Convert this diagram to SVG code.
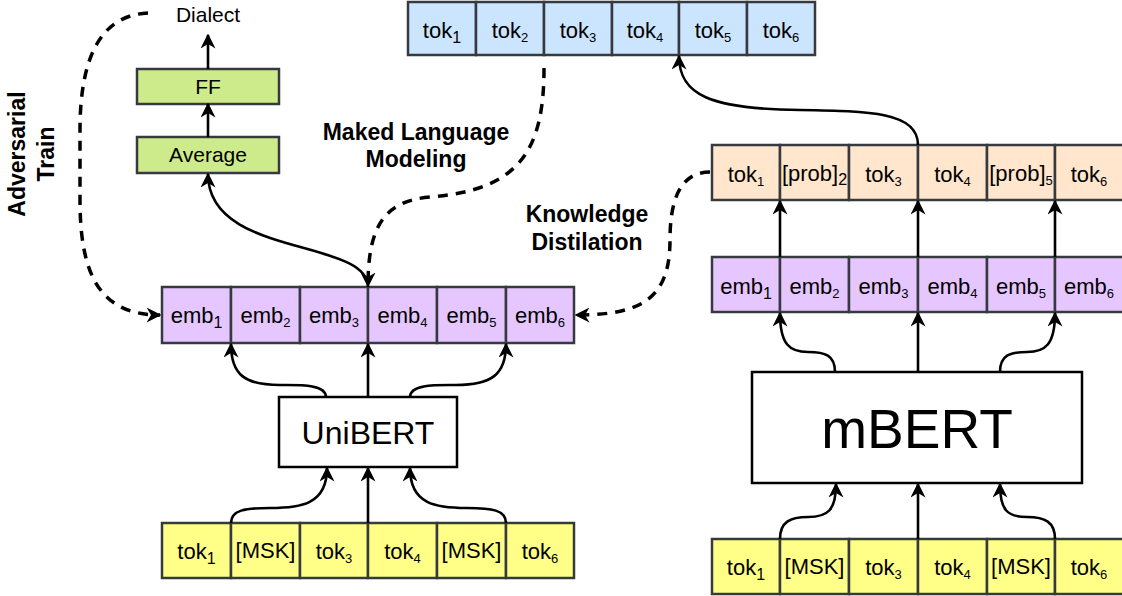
<svg xmlns="http://www.w3.org/2000/svg" width="1122" height="596" viewBox="0 0 1122 596">
<style>
text{font-family:"Liberation Sans",Arial,Helvetica,sans-serif;fill:#000}
.c{stroke:#36393d;stroke-width:2.5}
.blue{fill:#cce5ff}.org{fill:#ffe6cc}.pur{fill:#e6c6ff}.yel{fill:#ffff88}.grn{fill:#cdeb8b}
.t{font-size:22px;text-anchor:middle}
.s{font-size:13px}.s1{font-size:16px}
.b{font-weight:bold;font-size:23px;text-anchor:middle}
.box{fill:#fff;stroke:#000;stroke-width:2.5}
.conn path{fill:none;stroke:#000;stroke-width:2.6}
.conn .d{stroke-width:3.5;stroke-dasharray:10 8}
</style>
<defs>
<marker id="ah" viewBox="0 0 10 10" refX="9" refY="5" markerWidth="15" markerHeight="15" markerUnits="userSpaceOnUse" orient="auto">
<path d="M0,0 L10,5 L0,10 L3,5 Z" fill="#000"/>
</marker>
</defs>
<rect width="1122" height="596" fill="#fff"/>

<g id="blue-row">
<rect class="c blue" x="408" y="2" width="68" height="53"/>
<rect class="c blue" x="476" y="2" width="68" height="53"/>
<rect class="c blue" x="544" y="2" width="68" height="53"/>
<rect class="c blue" x="612" y="2" width="67" height="53"/>
<rect class="c blue" x="679" y="2" width="68" height="53"/>
<rect class="c blue" x="747" y="2" width="68" height="53"/>
<text class="t" x="442" y="38">tok<tspan class="s1" dy="5">1</tspan></text>
<text class="t" x="510" y="38">tok<tspan class="s" dy="4">2</tspan></text>
<text class="t" x="578" y="38">tok<tspan class="s" dy="4">3</tspan></text>
<text class="t" x="645" y="38">tok<tspan class="s" dy="4">4</tspan></text>
<text class="t" x="713" y="38">tok<tspan class="s" dy="4">5</tspan></text>
<text class="t" x="781" y="38">tok<tspan class="s" dy="4">6</tspan></text>
</g>

<g id="dialect">
<text x="208" y="22" font-size="21" text-anchor="middle">Dialect</text>
</g>
<g id="ff">
<rect class="c grn" x="137" y="69" width="142" height="35"/>
<text x="208" y="94" font-size="21" text-anchor="middle">FF</text>
</g>
<g id="average">
<rect class="c grn" x="137" y="137" width="142" height="36"/>
<text x="208" y="162" font-size="21" text-anchor="middle">Average</text>
</g>

<g id="label-adversarial">
<g transform="translate(0,154) rotate(-90)">
<text class="b" x="0" y="25">Adversarial</text>
<text class="b" x="0" y="54">Train</text>
</g>
</g>
<g id="label-mlm">
<text class="b" x="416" y="140">Maked Language</text>
<text class="b" x="416" y="167">Modeling</text>
</g>
<g id="label-kd">
<text class="b" x="587" y="222">Knowledge</text>
<text class="b" x="587" y="250">Distilation</text>
</g>

<g id="emb-left">
<rect class="c pur" x="162" y="287" width="69" height="56"/>
<rect class="c pur" x="231" y="287" width="69" height="56"/>
<rect class="c pur" x="300" y="287" width="68" height="56"/>
<rect class="c pur" x="368" y="287" width="69" height="56"/>
<rect class="c pur" x="437" y="287" width="69" height="56"/>
<rect class="c pur" x="506" y="287" width="68" height="56"/>
<text class="t" x="196.5" y="323">emb<tspan class="s1" dy="5">1</tspan></text>
<text class="t" x="265.5" y="323">emb<tspan class="s" dy="4">2</tspan></text>
<text class="t" x="334" y="323">emb<tspan class="s" dy="4">3</tspan></text>
<text class="t" x="402.5" y="323">emb<tspan class="s" dy="4">4</tspan></text>
<text class="t" x="471.5" y="323">emb<tspan class="s" dy="4">5</tspan></text>
<text class="t" x="540" y="323">emb<tspan class="s" dy="4">6</tspan></text>
</g>

<g id="unibert">
<rect class="box" x="279" y="397" width="178" height="70"/>
<text x="368" y="444" font-size="32" text-anchor="middle">UniBERT</text>
</g>

<g id="tok-left">
<rect class="c yel" x="162" y="523" width="69" height="55"/>
<rect class="c yel" x="231" y="523" width="69" height="55"/>
<rect class="c yel" x="300" y="523" width="68" height="55"/>
<rect class="c yel" x="368" y="523" width="69" height="55"/>
<rect class="c yel" x="437" y="523" width="69" height="55"/>
<rect class="c yel" x="506" y="523" width="68" height="55"/>
<text class="t" x="196.5" y="559">tok<tspan class="s1" dy="5">1</tspan></text>
<text class="t" x="265.5" y="558" font-size="19">[MSK]</text>
<text class="t" x="334" y="559">tok<tspan class="s" dy="4">3</tspan></text>
<text class="t" x="402.5" y="559">tok<tspan class="s" dy="4">4</tspan></text>
<text class="t" x="471.5" y="558" font-size="19">[MSK]</text>
<text class="t" x="540" y="559">tok<tspan class="s" dy="4">6</tspan></text>
</g>

<g id="prob-right">
<rect class="c org" x="712" y="145" width="68" height="55"/>
<rect class="c org" x="780" y="145" width="69" height="55"/>
<rect class="c org" x="849" y="145" width="69" height="55"/>
<rect class="c org" x="918" y="145" width="69" height="55"/>
<rect class="c org" x="987" y="145" width="68" height="55"/>
<rect class="c org" x="1055" y="145" width="69" height="55"/>
<text class="t" x="746" y="182">tok<tspan class="s" dy="4">1</tspan></text>
<text class="t" x="814.5" y="181" font-size="19">[prob]<tspan class="s1" dy="4">2</tspan></text>
<text class="t" x="883.5" y="182">tok<tspan class="s" dy="4">3</tspan></text>
<text class="t" x="952.5" y="182">tok<tspan class="s" dy="4">4</tspan></text>
<text class="t" x="1021" y="181" font-size="19">[prob]<tspan class="s" dy="4">5</tspan></text>
<text class="t" x="1089" y="182">tok<tspan class="s" dy="4">6</tspan></text>
</g>

<g id="emb-right">
<rect class="c pur" x="712" y="257" width="68" height="55"/>
<rect class="c pur" x="780" y="257" width="69" height="55"/>
<rect class="c pur" x="849" y="257" width="69" height="55"/>
<rect class="c pur" x="918" y="257" width="69" height="55"/>
<rect class="c pur" x="987" y="257" width="68" height="55"/>
<rect class="c pur" x="1055" y="257" width="69" height="55"/>
<text class="t" x="746" y="294">emb<tspan class="s1" dy="5">1</tspan></text>
<text class="t" x="814.5" y="294">emb<tspan class="s" dy="4">2</tspan></text>
<text class="t" x="883.5" y="294">emb<tspan class="s" dy="4">3</tspan></text>
<text class="t" x="952.5" y="294">emb<tspan class="s" dy="4">4</tspan></text>
<text class="t" x="1021" y="294">emb<tspan class="s" dy="4">5</tspan></text>
<text class="t" x="1089" y="294">emb<tspan class="s" dy="4">6</tspan></text>
</g>

<g id="mbert">
<rect class="box" x="752" y="372" width="330" height="111"/>
<text x="917" y="448" font-size="55" text-anchor="middle">mBERT</text>
</g>

<g id="tok-right">
<rect class="c yel" x="712" y="539" width="68" height="55"/>
<rect class="c yel" x="780" y="539" width="69" height="55"/>
<rect class="c yel" x="849" y="539" width="69" height="55"/>
<rect class="c yel" x="918" y="539" width="69" height="55"/>
<rect class="c yel" x="987" y="539" width="68" height="55"/>
<rect class="c yel" x="1055" y="539" width="69" height="55"/>
<text class="t" x="746" y="575">tok<tspan class="s1" dy="5">1</tspan></text>
<text class="t" x="814.5" y="574" font-size="19">[MSK]</text>
<text class="t" x="883.5" y="575">tok<tspan class="s" dy="4">3</tspan></text>
<text class="t" x="952.5" y="575">tok<tspan class="s" dy="4">4</tspan></text>
<text class="t" x="1021" y="574" font-size="19">[MSK]</text>
<text class="t" x="1089" y="575">tok<tspan class="s" dy="4">6</tspan></text>
</g>

<g id="connectors" class="conn">
<path d="M208 69 L208 35" marker-end="url(#ah)"/>
<path d="M208 137 L208 104" marker-end="url(#ah)"/>
<path d="M368 287 C368 238 208 258 208 174" marker-end="url(#ah)"/>
<path class="d" d="M148 13 C105 15 80 50 80 130 L80 200 C80 275 100 315 160 315" marker-end="url(#ah)"/>
<path class="d" d="M544 68 C544 150 520 190 430 197 C385 201 368 225 368 286" marker-end="url(#ah)"/>
<path class="d" d="M710 172 C680 172 670 200 670 240 C670 300 640 315 576 315" marker-end="url(#ah)"/>
<path d="M326 397 C326 384 300 385 280 385 C245 385 231 375 231 344" marker-end="url(#ah)"/>
<path d="M368 397 L368 344" marker-end="url(#ah)"/>
<path d="M410 397 C410 384 436 385 456 385 C491 385 506 375 506 344" marker-end="url(#ah)"/>
<path d="M231 523 C231 510 245 508 270 508 C300 508 327 505 327 468" marker-end="url(#ah)"/>
<path d="M368 523 L368 468" marker-end="url(#ah)"/>
<path d="M506 523 C506 510 492 508 467 508 C437 508 410 505 410 468" marker-end="url(#ah)"/>
<path d="M780 539 C780 522 790 517 808 517 C828 517 836 510 836 484" marker-end="url(#ah)"/>
<path d="M918 539 L918 484" marker-end="url(#ah)"/>
<path d="M1055 539 C1055 522 1045 517 1027 517 C1007 517 1000 510 1000 484" marker-end="url(#ah)"/>
<path d="M835 372 C835 355 825 352 808 352 C790 352 780 345 780 313" marker-end="url(#ah)"/>
<path d="M918 372 L918 313" marker-end="url(#ah)"/>
<path d="M1000 372 C1000 355 1010 352 1027 352 C1045 352 1055 345 1055 313" marker-end="url(#ah)"/>
<path d="M780 257 L780 201" marker-end="url(#ah)"/>
<path d="M918 257 L918 201" marker-end="url(#ah)"/>
<path d="M1055 257 L1055 201" marker-end="url(#ah)"/>
<path d="M918 145 C918 112 870 111 800 110 C710 109 679 95 679 56" marker-end="url(#ah)"/>
</g>
</svg>
